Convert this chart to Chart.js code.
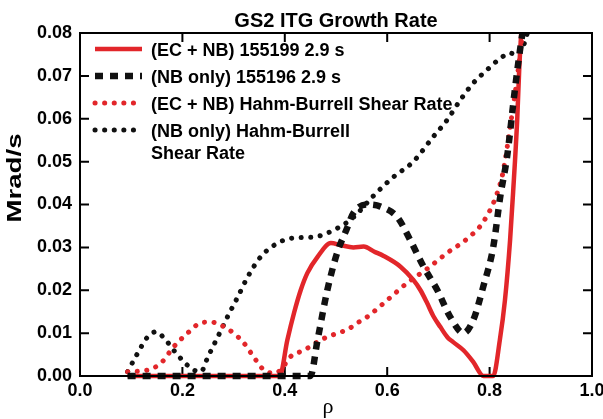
<!DOCTYPE html>
<html>
<head>
<meta charset="utf-8">
<script src="https://cdn.jsdelivr.net/npm/chart.js@4.4.1/dist/chart.umd.min.js"></script>
<style>
  html, body { margin: 0; padding: 0; background: #fff; }
  #wrap { position: relative; width: 603px; height: 419px; }
  #box { position: absolute; border: 2px solid #000; box-sizing: border-box; pointer-events: none; }
</style>
</head>
<body>
<div id="wrap">
  <canvas id="chart" width="603" height="419"></canvas>
  <div id="box"></div>
</div>
<script>
// GS2 ITG growth rate vs rho
const ecnbRho = [0.093, 0.39, 0.405, 0.418, 0.431, 0.444, 0.464, 0.49, 0.51, 0.534, 0.554, 0.575, 0.593, 0.626, 0.651, 0.665, 0.678, 0.69, 0.704, 0.718, 0.729, 0.749, 0.768, 0.788, 0.807, 0.82, 0.83, 0.84, 0.846, 0.854, 0.858, 0.862];
const ecnbGamma = [0, 0, 0.0084, 0.0147, 0.020, 0.024, 0.0278, 0.031, 0.0305, 0.030, 0.0302, 0.029, 0.028, 0.0255, 0.0224, 0.020, 0.017, 0.014, 0.0114, 0.009, 0.0079, 0.006, 0.0033, 0, 0, 0.0084, 0.0177, 0.0317, 0.043, 0.060, 0.072, 0.0805];

const nbRho = [0.093, 0.45, 0.464, 0.483, 0.503, 0.52, 0.534, 0.561, 0.587, 0.62, 0.645, 0.671, 0.698, 0.723, 0.749, 0.768, 0.788, 0.807, 0.821, 0.834, 0.85, 0.863, 0.866];
const nbGamma = [0, 0, 0.0084, 0.020, 0.029, 0.034, 0.038, 0.040, 0.0395, 0.037, 0.0317, 0.0255, 0.020, 0.0138, 0.010, 0.013, 0.021, 0.030, 0.042, 0.051, 0.0674, 0.079, 0.081];

const ecnbShearRho = [0.093, 0.132, 0.158, 0.183, 0.21, 0.236, 0.255, 0.281, 0.30, 0.32, 0.339, 0.359, 0.378, 0.392, 0.411, 0.437, 0.47, 0.503, 0.522, 0.542, 0.561, 0.60, 0.639, 0.678, 0.717, 0.756, 0.788, 0.815, 0.827, 0.84, 0.854, 0.865];
const ecnbShear = [0.001, 0.0014, 0.003, 0.0068, 0.010, 0.0124, 0.0126, 0.0115, 0.010, 0.0077, 0.0045, 0.0014, 0.0007, 0.0014, 0.0045, 0.006, 0.0084, 0.010, 0.0108, 0.0124, 0.0138, 0.0177, 0.0217, 0.025, 0.0287, 0.032, 0.036, 0.0427, 0.048, 0.058, 0.0697, 0.081];

const nbShearRho = [0.093, 0.113, 0.132, 0.148, 0.164, 0.183, 0.203, 0.222, 0.236, 0.25, 0.269, 0.288, 0.308, 0.327, 0.353, 0.386, 0.418, 0.456, 0.495, 0.534, 0.573, 0.612, 0.651, 0.69, 0.717, 0.743, 0.768, 0.795, 0.821, 0.84, 0.854, 0.866, 0.875];
const nbShear = [0.001, 0.0054, 0.0091, 0.0103, 0.0089, 0.006, 0.0033, 0.0014, 0.001, 0.0045, 0.0091, 0.0138, 0.0184, 0.023, 0.0278, 0.031, 0.0322, 0.0324, 0.034, 0.037, 0.042, 0.0464, 0.050, 0.0558, 0.0597, 0.0644, 0.0683, 0.0714, 0.0741, 0.0753, 0.0749, 0.077, 0.0805];

const seriesLabels = [
  '(EC + NB) 155199 2.9 s',
  '(NB only) 155196 2.9 s',
  '(EC + NB) Hahm-Burrell Shear Rate',
  '(NB only) Hahm-Burrell\nShear Rate',
];

const xTicks = [0, 0.2, 0.4, 0.6, 0.8, 1.0];
const yTicks = [0, 0.01, 0.02, 0.03, 0.04, 0.05, 0.06, 0.07, 0.08];

const RED = '#e2262a';
const BLACK = '#111111';
const TICK_FONT = { family: 'Liberation Sans, Arial, sans-serif', size: 18, weight: 'bold' };

function toPoints(xs, ys) {
  return xs.map((x, i) => ({ x, y: ys[i] }));
}

const lineClip = { left: 10, right: 10, top: 0, bottom: 10 };

// plot box and inward tick marks
function drawFrame(chart) {
  const { ctx, chartArea: a } = chart;
  const sx = chart.scales.x;
  const sy = chart.scales.y;
  ctx.save();
  ctx.setLineDash([]);
  ctx.strokeStyle = '#000';
  ctx.lineWidth = 2;
  ctx.lineCap = 'square';
  ctx.beginPath();
  ctx.rect(a.left, a.top, a.right - a.left, a.bottom - a.top);
  xTicks.forEach((v) => {
    const px = sx.getPixelForValue(v);
    ctx.moveTo(px, a.bottom);
    ctx.lineTo(px, a.bottom - 8);
    ctx.moveTo(px, a.top);
    ctx.lineTo(px, a.top + 8);
  });
  yTicks.forEach((v) => {
    const py = sy.getPixelForValue(v);
    ctx.moveTo(a.left, py);
    ctx.lineTo(a.left + 8, py);
    ctx.moveTo(a.right, py);
    ctx.lineTo(a.right - 8, py);
  });
  ctx.stroke();
  ctx.restore();
}

// legend drawn inside the plot, top-left
function drawLegend(chart) {
  const { ctx, chartArea: a } = chart;
  ctx.save();
  ctx.font = 'bold 18px "Liberation Sans", Arial, sans-serif';
  ctx.textBaseline = 'middle';
  ctx.textAlign = 'left';
  ctx.fillStyle = '#000';
  let y = a.top + 16;
  chart.data.datasets.forEach((ds) => {
    ctx.save();
    ctx.strokeStyle = ds.borderColor;
    ctx.lineWidth = ds.borderWidth;
    ctx.setLineDash(ds.borderDash || []);
    ctx.lineCap = ds.borderCapStyle || 'butt';
    ctx.beginPath();
    ctx.moveTo(a.left + 15, y);
    ctx.lineTo(a.left + 62, y);
    ctx.stroke();
    ctx.restore();
    ds.label.split('\n').forEach((t, i) => {
      ctx.fillText(t, a.left + 71, y + 2 + i * 22);
    });
    y += 27;
  });
  ctx.restore();
}

function drawAxisTitles(chart) {
  const { ctx } = chart;
  ctx.save();
  ctx.fillStyle = '#000';
  ctx.textAlign = 'center';
  ctx.textBaseline = 'middle';
  ctx.translate(15, 178);
  ctx.rotate(-Math.PI / 2);
  ctx.scale(1.38, 1);
  ctx.font = 'bold 20px "Liberation Sans", Arial, sans-serif';
  ctx.fillText('Mrad/s', 0, 0);
  ctx.restore();

  ctx.save();
  ctx.fillStyle = '#000';
  ctx.textAlign = 'center';
  ctx.textBaseline = 'alphabetic';
  ctx.font = '22px "Liberation Serif", "Times New Roman", serif';
  ctx.fillText('ρ', 328, 413);
  ctx.restore();
}

const decorations = {
  id: 'decorations',
  beforeDatasetsDraw(chart) {
    drawFrame(chart);
  },
  afterDraw(chart) {
    drawLegend(chart);
    drawAxisTitles(chart);
  },
};

const chart = new Chart(document.getElementById('chart'), {
  type: 'line',
  data: {
    datasets: [
      {
        label: seriesLabels[0],
        data: toPoints(ecnbRho, ecnbGamma),
        borderColor: RED,
        borderWidth: 4.5,
        borderDash: [],
        order: 1,
        clip: lineClip,
      },
      {
        label: seriesLabels[1],
        data: toPoints(nbRho, nbGamma),
        borderColor: BLACK,
        borderWidth: 6.5,
        borderDash: [8, 7],
        order: 0,
        clip: lineClip,
      },
      {
        label: seriesLabels[2],
        data: toPoints(ecnbShearRho, ecnbShear),
        borderColor: RED,
        borderWidth: 5,
        borderDash: [0.1, 9.5],
        borderCapStyle: 'round',
        order: 2,
        clip: lineClip,
      },
      {
        label: seriesLabels[3],
        data: toPoints(nbShearRho, nbShear),
        borderColor: BLACK,
        borderWidth: 5,
        borderDash: [0.1, 9.5],
        borderCapStyle: 'round',
        order: 3,
        clip: lineClip,
      },
    ],
  },
  options: {
    responsive: false,
    animation: false,
    devicePixelRatio: 1,
    layout: { padding: 0 },
    elements: {
      point: { radius: 0 },
      line: { cubicInterpolationMode: 'monotone', fill: false },
    },
    plugins: {
      legend: { display: false },
      tooltip: { enabled: false },
      title: {
        display: true,
        text: 'GS2 ITG Growth Rate',
        fullSize: false,
        color: '#000',
        font: { family: 'Liberation Sans, Arial, sans-serif', size: 20, weight: 'bold' },
        padding: { top: 9, bottom: 0 },
      },
    },
    scales: {
      x: {
        type: 'linear',
        position: 'bottom',
        min: 0,
        max: 1,
        afterFit: (scale) => {
          scale.height = 43;
          scale.paddingRight = 11;
          scale.paddingLeft = 0;
        },
        afterBuildTicks: (scale) => { scale.ticks = xTicks.map((value) => ({ value })); },
        grid: { display: false, drawTicks: false },
        border: { display: false },
        ticks: {
          color: '#000',
          font: TICK_FONT,
          padding: 4,
          maxRotation: 0,
          callback: (v) => v.toFixed(1),
        },
      },
      y: {
        position: 'left',
        min: 0,
        max: 0.08,
        afterFit: (scale) => { scale.width = 80; },
        afterBuildTicks: (scale) => { scale.ticks = yTicks.map((value) => ({ value })); },
        grid: { display: false, drawTicks: false },
        border: { display: false },
        ticks: {
          color: '#000',
          font: TICK_FONT,
          padding: 8,
          callback: (v) => v.toFixed(2),
        },
      },
    },
  },
  plugins: [decorations],
});

// outline of the plot area, placed from the chart's own layout
const area = chart.chartArea;
const box = document.getElementById('box');
box.style.left = (area.left - 1) + 'px';
box.style.top = (area.top - 1) + 'px';
box.style.width = (area.right - area.left + 2) + 'px';
box.style.height = (area.bottom - area.top + 2) + 'px';
</script>
</body>
</html>
